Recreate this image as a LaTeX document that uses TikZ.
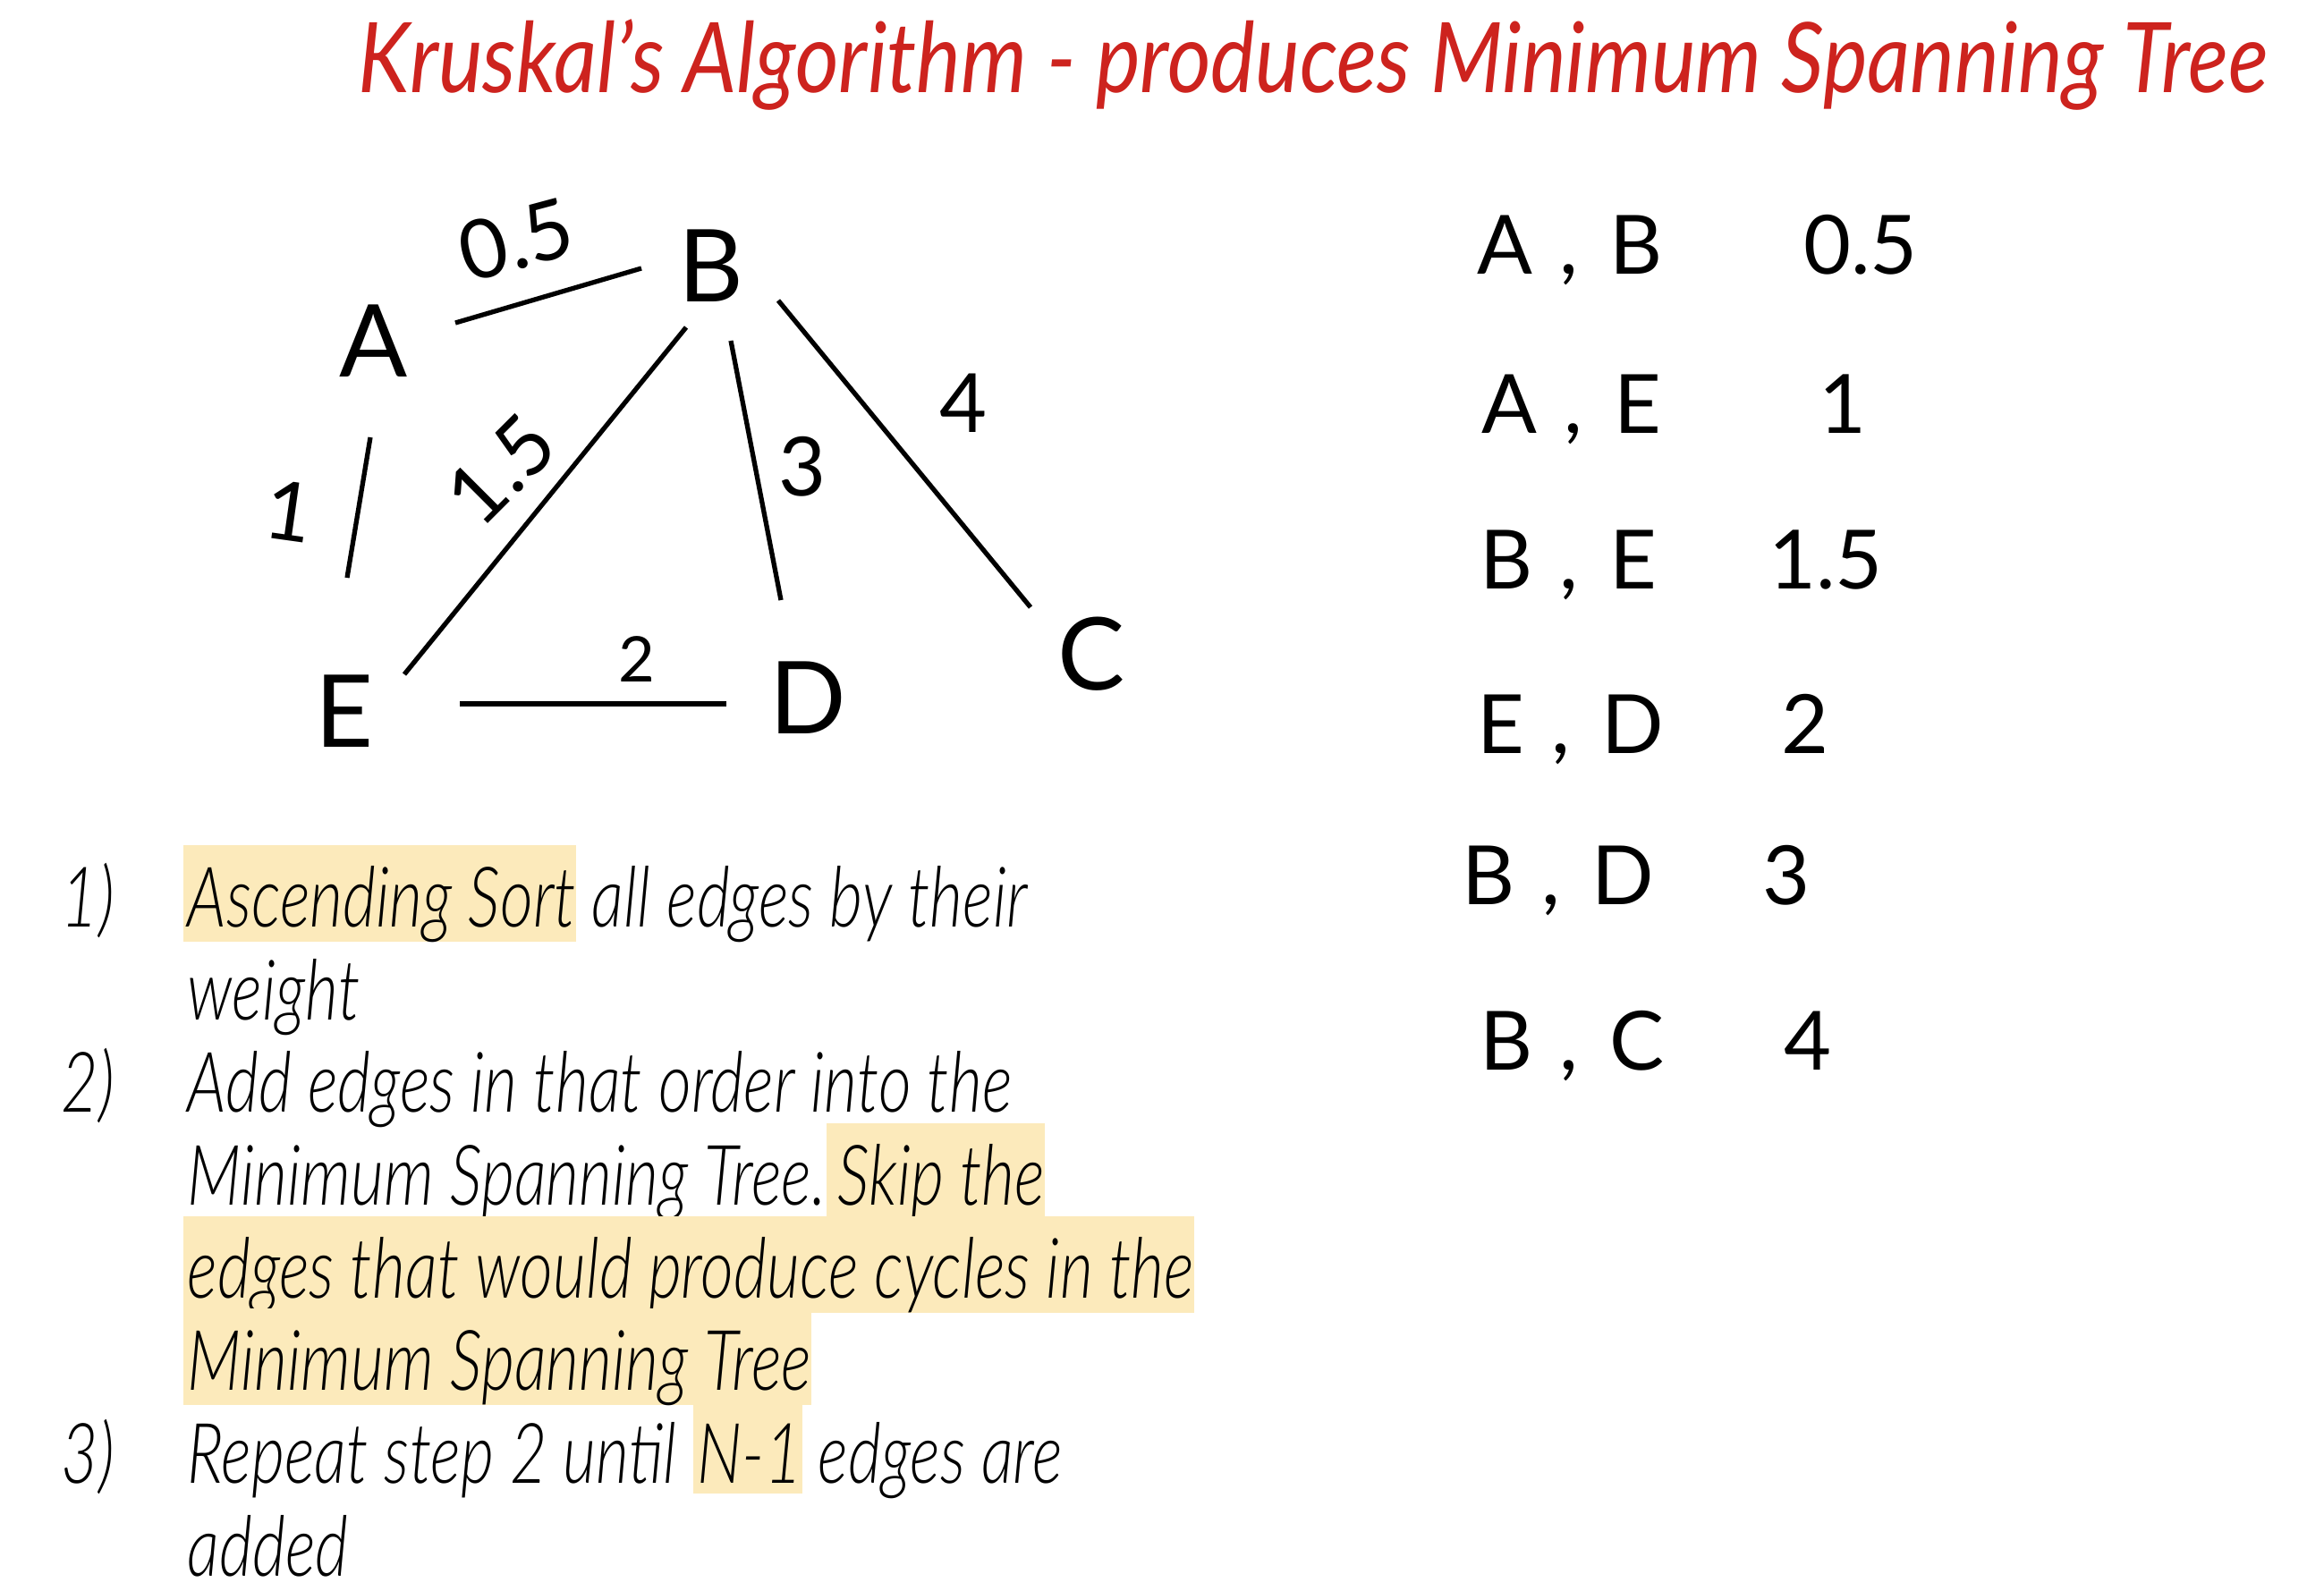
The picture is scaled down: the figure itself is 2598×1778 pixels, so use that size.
\documentclass[tikz,border=0pt]{standalone}
\usepackage{fontspec}
\setmainfont{Lato}
\newfontfamily\handfont[FakeStretch=0.765]{Lato Light}
\newfontfamily\titlefont[FakeStretch=0.86]{Lato}
\usepackage{tikz}
\usetikzlibrary{arrows.meta,calc}

\definecolor{krred}{RGB}{205,35,30}
\definecolor{hlyellow}{RGB}{252,234,187}

\newcommand{\hlbox}[1]{{\setlength{\fboxsep}{0pt}\colorbox{hlyellow}{\rule[-0.12cm]{0pt}{1.03cm}\hspace{0.05cm}#1}}}
\newcommand{\edgepair}[2]{#1\hspace{0.3cm},\hspace{0.35cm}#2}

\begin{document}
\begin{tikzpicture}[x=0.01cm, y=-0.01cm, line width=1.5pt,
    vtx/.style={font=\fontsize{32}{36}\selectfont, inner sep=0pt},
    wlabel/.style={font=\fontsize{26}{30}\selectfont, inner sep=0pt},
    cell/.style={font=\fontsize{26}{30}\selectfont, inner sep=0pt},
    stepline/.style={anchor=base west, inner sep=0pt,
        font=\handfont\itshape\fontsize{26.6}{30}\selectfont}]
    \useasboundingbox (0,0) rectangle (2598,1778);

    \node[anchor=base west, inner sep=0pt, text=krred,
        font=\titlefont\itshape\fontsize{31}{36}\selectfont] (title) at (398,103)
        {Kruskal’s Algorithm - produces Minimum Spanning Tree};

    % the graph
    \node[vtx] (A) at (418,381) {A};
    \node[vtx] (B) at (795,297) {B};
    \node[vtx] (C) at (1220,731) {C};
    \node[vtx] (D) at (903,780) {D};
    \node[vtx] (E) at (385,795) {E};

    % edge ends are offsets from the letters
    \draw ($(A)+(91,-20)$) -- ($(B)+(-78,3)$);
    \draw ($(A)+(-4,108)$) -- ($(E)+(3,-149)$);
    \draw ($(B)+(-28,69)$) -- ($(E)+(67,-41)$);
    \draw ($(B)+(22,84)$) -- ($(D)+(-30,-109)$);
    \draw ($(B)+(75,39)$) -- ($(C)+(-68,-52)$);
    \draw ($(E)+(129,-8)$) -- ($(D)+(-91,7)$);

    \node[wlabel, rotate=15] (wAB) at (577,268) {0.5};
    \node[wlabel, rotate=-8] (wAE) at (323,572) {1};
    \node[wlabel, rotate=45] (wBE) at (560,525) {1.5};
    \node[wlabel] (wBD) at (897,522) {3};
    \node[wlabel] (wBC) at (1077,451) {4};
    \node[wlabel, font=\fontsize{20}{24}\selectfont] (wED) at (712,737) {2};

    % sorted edge list
    \node[cell, anchor=base west] (p1) at (1649,306) {\edgepair{A}{B}};
    \node[cell, anchor=base west] (p2) at (1654,484) {\edgepair{A}{E}};
    \node[cell, anchor=base west] (p3) at (1652,658) {\edgepair{B}{E}};
    \node[cell, anchor=base west] (p4) at (1649,842) {\edgepair{E}{D}};
    \node[cell, anchor=base west] (p5) at (1632,1011) {\edgepair{B}{D}};
    \node[cell, anchor=base west] (p6) at (1652,1196) {\edgepair{B}{C}};

    \node[cell, anchor=base] (v1) at (2080,306) {0.5};
    \node[cell, anchor=base] (v2) at (2060,484) {1};
    \node[cell, anchor=base] (v3) at (2041,658) {1.5};
    \node[cell, anchor=base] (v4) at (2018,842) {2};
    \node[cell, anchor=base] (v5) at (1997,1011) {3};
    \node[cell, anchor=base] (v6) at (2021,1196) {4};

    % the steps
    \node[stepline] (n1) at (66,1036) {1)};
    \node[stepline] (s1) at (202,1036) {\hlbox{Ascending Sort} all edges by their};
    \node[stepline] (s2) at (207,1140) {weight};
    \node[stepline] (n2) at (66,1243) {2)};
    \node[stepline] (s3) at (207,1243) {Add edges in that order into the};
    \node[stepline] (s4) at (207,1347) {Minimum Spanning Tree.\hlbox{\hspace{0.08cm}Skip the}};
    \node[stepline] (s5) at (202,1451) {\hlbox{edges that would produce cycles in the}};
    \node[stepline] (s6) at (202,1554) {\hlbox{Minimum Spanning Tree}};
    \node[stepline] (n3) at (66,1658) {3)};
    \node[stepline] (s7) at (207,1658) {Repeat step 2 until \hlbox{N-1} edges are};
    \node[stepline] (s8) at (207,1762) {added};
\end{tikzpicture}
\end{document}
